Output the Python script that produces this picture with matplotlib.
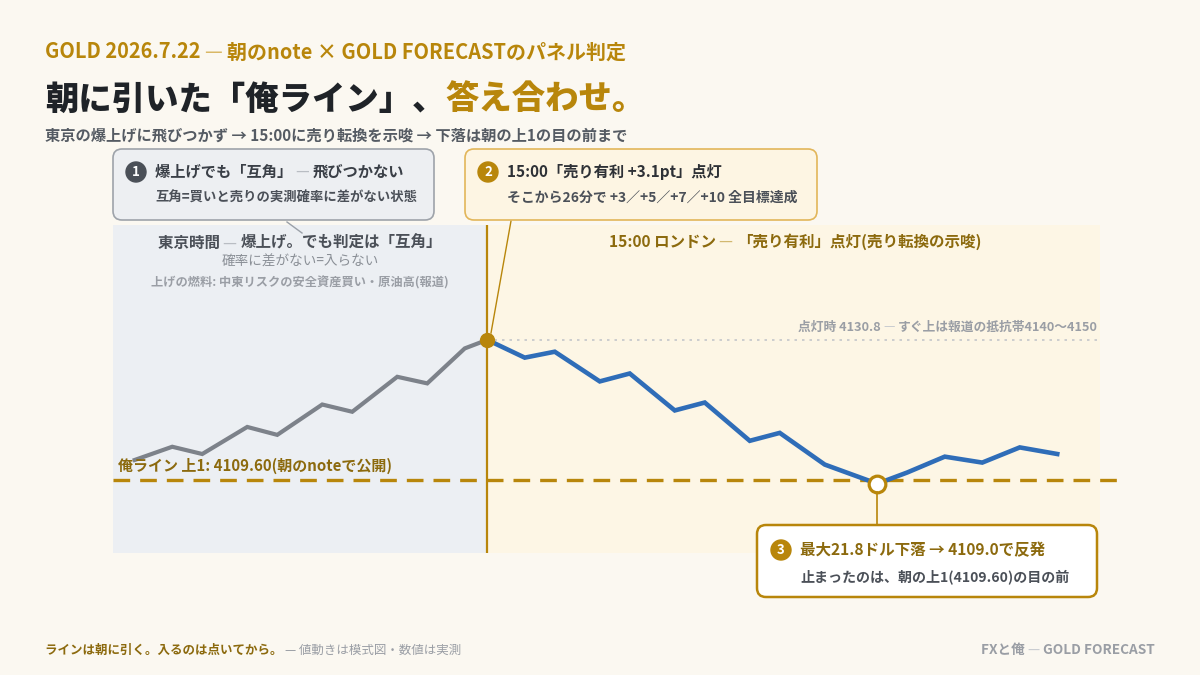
import matplotlib
matplotlib.use("Agg")
import matplotlib.pyplot as plt
from matplotlib.patches import FancyBboxPatch, Circle

plt.rcParams['font.family'] = ['Noto Sans CJK JP', 'DejaVu Sans']

# ---- data (x = minutes relative to 15:00 London open, schematic) ----
tokyo_x = [-47, -42, -38, -32, -28, -22, -18, -12, -8, -3, 0]
tokyo_p = [4112.6, 4114.6, 4113.5, 4117.6, 4116.4, 4121.0, 4119.9, 4125.2, 4124.2, 4129.5, 4130.8]
london_x = [0, 5, 9, 15, 19, 25, 29, 35, 39, 45, 52, 56, 61, 66, 71, 76]
london_p = [4130.8, 4128.1, 4129.0, 4124.5, 4125.7, 4120.1, 4121.3, 4115.5, 4116.7, 4111.9,
            4109.0, 4110.7, 4113.1, 4112.2, 4114.5, 4113.5]
ore_line = 4109.60
signal_price = 4130.8
low_price = 4109.0
low_x = 52

W, H = 1200, 675
BG = '#FBF8F1'
GOLD = '#B8860B'
BROWN = '#8C6A0E'
DARK = '#1F2328'
GREY_T = '#4B5058'
GREY_L = '#9A9EA5'
DASH_C = '#B9BDC3'
BLUE = '#2F6DB8'
GREY_LINE = '#7D828A'

fig = plt.figure(figsize=(12, 6.75), dpi=100, facecolor=BG)

# main chart axes (pixel box 113..1130 x 225..553)
L, R, T_, B = 113, 1130, 225, 553
ax = fig.add_axes([L / W, 1 - B / H, (R - L) / W, (B - T_) / H])
ax.set_facecolor('none')
xmin, xmax = -49.9, 85.7
ax.set_xlim(xmin, xmax)
ax.set_ylim(4098.5, 4148.2)
ax.axis('off')
shade_end = 81.7
ax.axvspan(xmin, 0, color='#ECEFF3', zorder=0, lw=0)
ax.axvspan(0, shade_end, color='#FDF6E5', zorder=0, lw=0)
ax.axvline(0, color=GOLD, lw=1.6, zorder=2)
ax.plot([0, shade_end], [signal_price, signal_price], color='#C4C6CA', lw=1.2,
        ls=(0, (1.5, 3)), zorder=1)
ax.plot([xmin, 85.0], [ore_line, ore_line], color=GOLD, lw=2.4, ls=(0, (5, 3)), zorder=2)
ax.plot(tokyo_x, tokyo_p, color=GREY_LINE, lw=3.0, solid_joinstyle='miter', zorder=3)
ax.plot(london_x, london_p, color=BLUE, lw=3.3, solid_joinstyle='miter', zorder=3)
ax.plot([0], [signal_price], 'o', ms=10, color=GOLD, zorder=5)
ax.plot([low_x], [low_price], 'o', ms=12, mfc='white', mec=GOLD, mew=2.3, zorder=5)

# overlay axes in pixel coordinates for text / callouts
ov = fig.add_axes([0, 0, 1, 1])
ov.set_xlim(0, W)
ov.set_ylim(H, 0)
ov.axis('off')
ov.set_facecolor('none')


def txt(x, y, s, size, color, weight='normal', ha='left', va='center', **kw):
    return ov.text(x, y, s, fontsize=size, color=color, fontweight=weight, ha=ha, va=va, **kw)


def width_of(s, size, weight):
    t = txt(0, 0, s, size, 'k', weight)
    fig.canvas.draw()
    bb = t.get_window_extent(renderer=fig.canvas.get_renderer())
    t.remove()
    return bb.width / fig.dpi * 100


def segs(x, y, parts, ha='left', zorder=8):
    """parts: list of (text, size, color, weight)"""
    widths = [width_of(s, sz, w) for s, sz, c, w in parts]
    total = sum(widths)
    if ha == 'center':
        x = x - total / 2
    elif ha == 'right':
        x = x - total
    for (s, sz, c, w), wd in zip(parts, widths):
        txt(x, y, s, sz, c, w, zorder=zorder)
        x += wd


# header
segs(45, 52, [('GOLD 2026.7.22 ', 14.4, GOLD, 'bold'), ('— ', 14.4, '#D9B866', 'normal'),
              ('朝のnote × GOLD FORECASTのパネル判定', 14.4, GOLD, 'bold')])
segs(45, 99, [('朝に引いた「俺ライン」、', 24, DARK, 'black'), ('答え合わせ。', 24, GOLD, 'black')])
txt(45, 136, '東京の爆上げに飛びつかず → 15:00に売り転換を示唆 → 下落は朝の上1の目の前まで', 11.0, '#555B63', 'bold')

# region texts
segs(300, 243, [('東京時間 ', 11.2, GREY_T, 'bold'), ('— ', 11.2, DASH_C, 'normal'),
                ('爆上げ。でも判定は「互角」', 11.2, GREY_T, 'bold')], ha='center')
txt(300, 262, '確率に差がない=入らない', 9.8, '#8A8F96', ha='center')
txt(300, 283, '上げの燃料: 中東リスクの安全資産買い・原油高(報道)', 8.8, GREY_L, 'bold', ha='center')
segs(795, 242, [('15:00 ロンドン ', 11.2, BROWN, 'bold'), ('— ', 11.2, '#D2B870', 'normal'),
                ('「売り有利」点灯(売り転換の示唆)', 11.2, BROWN, 'bold')], ha='center')
segs(1098, 327, [('点灯時 4130.8 ', 9.2, GREY_L, 'bold'), ('— ', 9.2, '#C8CBD0', 'normal'),
                 ('すぐ上は報道の抵抗帯4140〜4150', 9.2, GREY_L, 'bold')], ha='right')
txt(118, 466, '俺ライン 上1: 4109.60(朝のnoteで公開)', 10.8, BROWN, 'bold')


def box(x0, y0, x1, y1, fc, ec, lw):
    p = FancyBboxPatch((x0, y0), x1 - x0, y1 - y0,
                       boxstyle='round,pad=0,rounding_size=9', fc=fc, ec=ec, lw=lw, zorder=6)
    ov.add_patch(p)


def badge(x, y, n, color):
    ov.add_patch(Circle((x, y), 10, color=color, zorder=7))
    txt(x, y, n, 9.5, 'white', 'bold', ha='center', zorder=8)


# callout 1
ov.plot([287, 302], [222, 233], color='#9AA0A8', lw=1, zorder=5)
box(113, 149, 434, 220, '#EDEFF2', '#9EA3AA', 1.2)
badge(136, 172, '1', '#4B5058')
segs(155, 172, [('爆上げでも「互角」 ', 11, '#3A3F47', 'bold'), ('— ', 11, DASH_C, 'normal'),
                ('飛びつかない', 11, '#3A3F47', 'bold')])
txt(155, 198, '互角=買いと売りの実測確率に差がない状態', 9.6, GREY_T, 'bold', zorder=8)

# callout 2
ov.plot([511, 491], [221, 333], color=GOLD, lw=1, zorder=5)
box(465, 149, 817, 220, '#FDF5E3', '#E2B65A', 1.2)
badge(488, 172, '2', GOLD)
txt(507, 172, '15:00「売り有利 +3.1pt」点灯', 11, '#2E3136', 'bold', zorder=8)
txt(507, 198, 'そこから26分で +3／+5／+7／+10 全目標達成', 10, GREY_T, 'bold', zorder=8)

# callout 3
ov.plot([877, 877], [492, 525], color=GOLD, lw=1.2, zorder=5)
box(757, 525, 1097, 597, 'white', GOLD, 1.8)
badge(781, 550, '3', GOLD)
txt(800, 550, '最大21.8ドル下落 → 4109.0で反発', 11.2, BROWN, 'bold', zorder=8)
txt(800, 577, '止まったのは、朝の上1(4109.60)の目の前', 10.1, GREY_T, 'bold', zorder=8)

# footer
segs(45, 650, [('ラインは朝に引く。入るのは点いてから。 ', 9, BROWN, 'bold'),
               ('— 値動きは模式図・数値は実測', 9, GREY_L, 'normal')])
segs(1155, 650, [('FXと俺 ', 9.8, GREY_L, 'bold'), ('— ', 9.8, '#C8CBD0', 'normal'),
                 ('GOLD FORECAST', 9.8, GREY_L, 'bold')], ha='right')

fig.savefig('out.png', dpi=100, facecolor=BG)
